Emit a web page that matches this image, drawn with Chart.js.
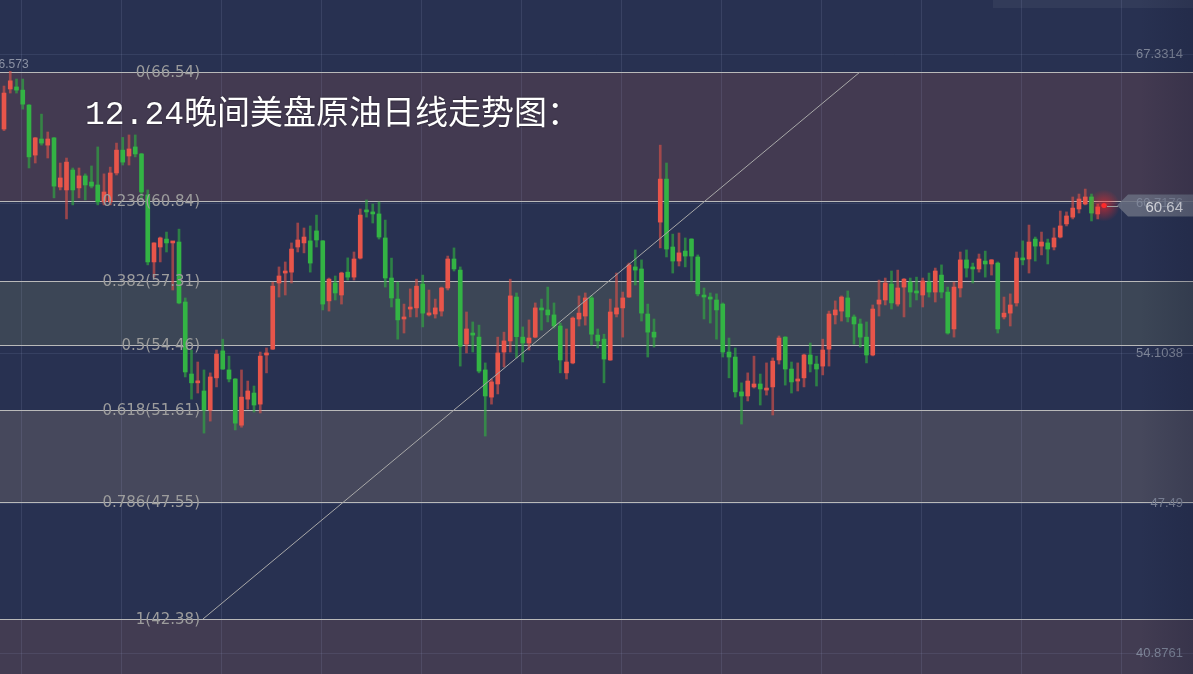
<!DOCTYPE html>
<html>
<head>
<meta charset="utf-8">
<script src="https://cdn.jsdelivr.net/npm/chart.js@4/dist/chart.umd.min.js"></script>
<style>
  html, body { margin: 0; padding: 0; background: #283151; overflow: hidden; }
</style>
</head>
<body>
<canvas id="chart" width="1193" height="674"></canvas>
<script>
// daily candles, oldest first
const opens = [64.02,65.79,65.88,65.74,65.08,62.87,63.58,63.31,63.63,61.46,
  61.33,62.21,61.42,61.95,61.68,61.55,60.80,60.80,62.08,63.09,
  62.83,63.23,62.92,61.11,58.15,58.81,59.16,58.99,59.03,56.38,
  53.20,52.81,52.45,51.61,53.03,54.22,53.38,52.98,50.94,52.09,
  52.36,51.87,54.04,54.30,57.22,57.66,57.70,58.81,58.99,59.08,
  59.52,59.08,56.43,57.22,56.69,57.70,57.48,58.32,60.40,60.36,
  60.27,59.21,57.44,56.51,55.63,56.07,56.12,57.17,55.81,55.85,
  55.98,57.00,58.28,57.79,54.52,55.01,54.83,53.38,52.18,52.76,
  54.17,54.66,56.60,54.83,54.57,54.83,56.07,56.03,55.81,55.32,
  53.25,53.69,55.63,55.76,56.56,54.92,54.74,53.82,55.85,56.12,
  56.60,57.93,57.84,55.85,55.05,59.91,61.81,58.81,58.19,58.63,
  59.16,58.37,56.65,56.60,56.47,56.29,54.17,53.95,52.41,52.23,
  52.63,52.76,52.49,52.63,53.82,54.83,53.42,52.89,53.03,54.04,
  53.64,53.55,54.30,55.81,55.98,56.56,55.72,55.41,54.83,54.04,
  56.29,56.47,57.17,56.29,57.04,57.26,56.82,56.69,57.26,56.82,
  57.57,56.82,55.19,57.00,58.24,57.88,57.84,58.19,58.06,58.10,
  55.72,55.89,56.34,58.28,58.28,59.16,58.85,58.99,58.81,59.25,
  59.83,60.13,60.49,60.71,61.02,60.27,60.60];
const highs = [65.92,66.57,66.23,66.23,65.10,63.65,64.68,63.89,63.65,62.52,
  62.74,62.30,62.30,62.04,62.39,63.23,62.04,62.34,63.40,63.65,
  63.76,63.76,62.95,61.33,59.00,59.25,59.47,59.05,59.60,56.56,
  54.26,53.73,53.38,53.25,54.26,54.74,53.99,53.00,53.38,52.89,
  52.67,54.17,54.35,57.26,57.93,58.15,58.99,59.87,59.65,59.74,
  60.22,59.10,57.44,57.53,57.70,58.33,58.59,60.49,60.89,60.71,
  60.80,60.00,58.32,57.26,56.29,56.96,57.39,57.57,56.91,56.51,
  57.04,58.41,58.77,57.93,55.94,55.50,55.36,53.69,52.98,54.83,
  55.05,57.39,56.78,55.28,55.59,56.34,56.51,57.04,56.34,55.45,
  55.19,55.72,56.65,56.78,56.65,55.19,54.96,56.51,57.66,56.82,
  58.10,58.68,58.24,56.29,55.63,63.31,62.52,59.38,59.43,59.21,
  59.18,58.46,57.00,56.78,56.74,56.34,54.79,54.35,52.81,53.25,
  53.99,53.20,53.69,53.91,54.88,54.85,53.73,53.69,54.08,54.57,
  53.99,54.74,55.98,56.43,56.65,56.87,55.81,55.63,55.50,56.25,
  57.35,57.44,57.75,57.79,57.42,57.44,57.48,57.44,57.66,57.88,
  58.02,57.04,57.26,58.59,58.68,58.10,58.50,58.63,58.26,58.15,
  56.60,56.74,58.59,59.08,59.78,59.25,59.47,59.16,59.65,60.40,
  60.36,61.02,61.15,61.37,61.15,60.71,60.70];
const lows = [63.95,65.61,65.61,64.90,62.30,62.52,63.31,62.74,60.98,61.33,
  60.05,60.67,60.98,60.89,61.42,60.67,60.67,60.67,61.99,62.43,
  62.43,62.79,60.89,58.02,57.48,58.15,58.59,56.91,56.30,53.07,
  52.09,52.36,50.59,51.12,52.63,53.40,52.85,50.73,50.85,51.65,
  51.52,51.48,53.25,54.28,56.60,56.69,57.22,58.59,58.55,57.70,
  58.81,56.03,55.98,56.47,56.29,57.35,57.35,58.28,60.13,59.87,
  59.16,57.04,56.16,54.74,55.01,55.72,55.72,55.28,55.76,55.67,
  55.76,56.91,57.75,53.55,54.13,54.17,53.25,50.46,51.87,52.32,
  53.51,54.17,53.91,53.73,54.26,54.80,55.14,55.50,55.23,53.25,
  52.98,53.65,55.32,55.36,54.48,54.35,52.81,53.80,55.72,54.83,
  56.58,57.13,55.54,53.95,54.39,58.77,58.37,57.66,57.97,57.93,
  57.31,56.65,55.63,55.45,54.74,53.95,53.03,52.18,50.99,52.01,
  52.58,51.83,52.27,51.39,53.64,52.71,52.36,52.45,52.63,53.29,
  52.67,53.16,53.55,55.41,55.54,55.50,54.52,54.39,53.69,54.00,
  55.76,56.25,56.07,56.20,55.72,56.16,56.47,56.16,56.60,56.38,
  56.56,54.96,54.83,56.60,57.48,57.22,57.70,57.48,57.57,55.01,
  55.63,55.32,56.20,58.02,57.66,58.19,58.46,58.06,58.68,59.21,
  59.74,60.05,60.31,60.67,59.96,60.05,60.58];
const closes = [65.61,66.15,65.74,65.12,62.79,63.63,63.40,63.58,61.50,61.86,
  62.56,61.33,61.95,61.55,61.50,60.80,61.24,62.08,63.09,62.56,
  63.14,62.92,61.24,58.15,58.99,59.21,58.99,59.03,56.34,53.29,
  52.81,52.85,51.61,53.07,54.08,53.42,52.98,51.03,52.18,52.45,
  51.83,53.99,54.13,57.08,57.53,57.75,58.72,59.12,59.25,58.10,
  59.12,56.29,57.39,56.78,57.66,57.48,58.28,60.22,60.36,60.27,
  59.25,57.44,56.56,55.59,55.72,56.12,57.08,55.89,55.85,56.12,
  57.00,58.28,57.84,54.43,55.19,54.92,53.33,52.23,52.85,54.13,
  54.66,56.65,54.85,54.57,54.79,56.12,56.03,55.81,55.32,53.82,
  53.73,55.67,55.89,56.56,54.96,54.66,53.86,55.94,56.12,56.56,
  58.02,57.79,55.89,55.05,54.83,61.81,58.72,58.19,58.55,58.41,
  58.41,56.74,56.60,56.51,56.03,54.17,53.95,52.41,52.23,52.89,
  52.76,52.54,52.58,53.77,54.79,53.42,52.85,52.98,54.04,53.64,
  53.42,54.26,55.85,56.03,56.60,55.72,55.41,54.83,54.04,56.07,
  56.47,57.22,56.34,57.00,57.39,56.82,56.78,57.31,56.82,57.75,
  56.82,55.01,57.04,58.24,57.88,57.84,58.28,58.06,58.24,55.19,
  55.89,56.25,58.32,58.24,59.03,58.85,59.03,58.72,59.21,59.74,
  60.18,60.53,60.93,61.02,60.31,60.58,60.64];

// fibonacci retracement drawn on top
const fibRatios = ['0', '0.236', '0.382', '0.5', '0.618', '0.786', '1'];
const fibValues = [66.54, 60.84, 57.31, 54.46, 51.61, 47.55, 42.38];
// band fills: above 0, then between each pair of levels, then below 1
const bandColors = ['#283151', '#433a51', '#283151', '#3c4656', '#283151', '#46485c', '#283151', '#423c52'];
const trendLine = [{ x: 31.84, y: 42.38 }, { x: 136.96, y: 66.54 }];

const priceTicks = [67.3314, 60.7176, 54.1038, 47.49, 40.8761];
const xGrid = [2.83, 18.83, 34.83, 50.83, 66.83, 82.83, 98.83, 114.83, 130.83, 146.83, 162.83, 178.83];
const lastPrice = 60.64;
const peakLabel = '66.573';
const title = '12.24晚间美盘原油日线走势图：';

const upColor = '#e8554a';
const downColor = '#33b444';
const upWick = 'rgba(214, 80, 72, 0.65)';
const downWick = 'rgba(48, 170, 64, 0.65)';

const bodies = opens.map((o, i) => ({ x: i, y: [o, closes[i]] }));
const wicks = opens.map((o, i) => ({ x: i, y: [lows[i], highs[i]] }));
const isUp = (i) => closes[i] >= opens[i];

const overlay = {
  id: 'overlay',
  beforeDraw(chart) {
    const { ctx, chartArea: a, scales: { y } } = chart;
    ctx.save();
    ctx.fillStyle = bandColors[0];
    ctx.fillRect(0, 0, chart.width, chart.height);
    const edges = [y.max, ...fibValues, y.min];
    for (let i = 0; i < edges.length - 1; i++) {
      const t = y.getPixelForValue(edges[i]);
      const b = y.getPixelForValue(edges[i + 1]);
      ctx.fillStyle = bandColors[i];
      ctx.fillRect(a.left, t, a.right - a.left, b - t);
    }
    // strip at the top right
    ctx.fillStyle = '#323b59';
    ctx.fillRect(993, 0, chart.width - 993, 8);
    ctx.restore();
  },
  beforeDatasetsDraw(chart) {
    const { ctx, chartArea: a, scales: { y } } = chart;
    ctx.save();
    ctx.strokeStyle = '#b9b9b9';
    ctx.lineWidth = 1.2;
    fibValues.forEach((v) => {
      const py = Math.round(y.getPixelForValue(v)) + 0.5;
      ctx.beginPath();
      ctx.moveTo(a.left, py);
      ctx.lineTo(a.right, py);
      ctx.stroke();
    });
    ctx.restore();
  },
  afterDatasetsDraw(chart) {
    const { ctx, chartArea: a, scales: { x, y } } = chart;
    ctx.save();

    // fib labels
    ctx.font = '15px "DejaVu Sans"';
    ctx.fillStyle = '#9c9c9c';
    ctx.textAlign = 'right';
    ctx.textBaseline = 'middle';
    fibValues.forEach((v, i) => {
      ctx.fillText(fibRatios[i] + '(' + v.toFixed(2) + ')', 200, y.getPixelForValue(v) + 1);
    });

    // highest high marker
    const peakIdx = highs.indexOf(Math.max(...highs));
    ctx.font = '12px "Liberation Sans"';
    ctx.fillStyle = '#8c92a4';
    ctx.textAlign = 'center';
    ctx.textBaseline = 'bottom';
    ctx.fillText(peakLabel, x.getPixelForValue(peakIdx), y.getPixelForValue(highs[peakIdx]) - 1);

    // last price glow + tag
    const li = closes.length - 1;
    const cx = x.getPixelForValue(li);
    const cy = y.getPixelForValue(lastPrice);
    const g = ctx.createRadialGradient(cx, cy, 0, cx, cy, 16);
    g.addColorStop(0, 'rgba(255, 40, 40, 0.6)');
    g.addColorStop(1, 'rgba(255, 40, 40, 0)');
    ctx.fillStyle = g;
    ctx.beginPath();
    ctx.arc(cx, cy, 16, 0, Math.PI * 2);
    ctx.fill();
    ctx.fillStyle = '#ff2a2a';
    ctx.beginPath();
    ctx.arc(cx, cy, 2.5, 0, Math.PI * 2);
    ctx.fill();

    ctx.strokeStyle = '#a0a0a0';
    ctx.lineWidth = 1;
    ctx.beginPath();
    ctx.moveTo(cx + 3, Math.round(cy) + 0.5);
    ctx.lineTo(1118, Math.round(cy) + 0.5);
    ctx.stroke();

    ctx.fillStyle = 'rgba(104, 110, 128, 0.85)';
    ctx.beginPath();
    ctx.moveTo(1117, cy);
    ctx.lineTo(1128, cy - 11);
    ctx.lineTo(a.right, cy - 11);
    ctx.lineTo(a.right, cy + 11);
    ctx.lineTo(1128, cy + 11);
    ctx.closePath();
    ctx.fill();

    // price axis labels
    ctx.font = '13px "Liberation Sans"';
    ctx.fillStyle = '#7f8699';
    ctx.textAlign = 'right';
    ctx.textBaseline = 'middle';
    priceTicks.forEach((v) => {
      ctx.fillText(String(v), a.right - 10, y.getPixelForValue(v));
    });

    ctx.font = '15px "Liberation Sans"';
    ctx.fillStyle = '#dcdde2';
    ctx.fillText(lastPrice.toFixed(2), a.right - 10, cy + 2);

    // title
    ctx.font = '33px "Liberation Mono", "Noto Sans CJK SC"';
    ctx.fillStyle = '#ffffff';
    ctx.textAlign = 'left';
    ctx.shadowColor = 'rgba(0,0,0,0.6)';
    ctx.shadowBlur = 2;
    ctx.fillText(title, 85, 115);
    ctx.restore();

    // slight darkening towards the right edge
    ctx.save();
    const eg = ctx.createLinearGradient(1140, 0, a.right, 0);
    eg.addColorStop(0, 'rgba(20, 24, 50, 0)');
    eg.addColorStop(1, 'rgba(20, 24, 50, 0.22)');
    ctx.fillStyle = eg;
    ctx.fillRect(1140, 0, a.right - 1140, chart.height);
    ctx.restore();
  }
};

new Chart(document.getElementById('chart'), {
  type: 'bar',
  data: {
    datasets: [
      {
        type: 'line',
        data: trendLine,
        borderColor: '#a8a8a8',
        borderWidth: 1,
        pointRadius: 0,
        order: 0
      },
      {
        data: bodies,
        backgroundColor: (c) => isUp(c.dataIndex) ? upColor : downColor,
        barThickness: 4,
        minBarLength: 2,
        grouped: false,
        order: 1
      },
      {
        data: wicks,
        backgroundColor: (c) => isUp(c.dataIndex) ? upWick : downWick,
        barThickness: 2,
        grouped: false,
        order: 2
      }
    ]
  },
  options: {
    responsive: false,
    animation: false,
    layout: { padding: 0 },
    plugins: { legend: { display: false }, tooltip: { enabled: false } },
    scales: {
      x: {
        type: 'linear',
        offset: false,
        min: -0.64,
        max: 190.24,
        grid: { color: 'rgba(160, 170, 210, 0.14)', drawTicks: false, offset: false },
        border: { display: false },
        ticks: { display: false },
        afterBuildTicks: (s) => { s.ticks = xGrid.map((v) => ({ value: v })); },
        afterFit: (s) => { s.height = 0; }
      },
      y: {
        position: 'right',
        min: 39.95,
        max: 69.72,
        grid: { color: 'rgba(160, 170, 210, 0.12)', drawTicks: false },
        border: { display: false },
        ticks: { display: false },
        afterBuildTicks: (s) => { s.ticks = priceTicks.map((v) => ({ value: v })); },
        afterFit: (s) => { s.width = 0; }
      }
    }
  },
  plugins: [overlay]
});
</script>
</body>
</html>
